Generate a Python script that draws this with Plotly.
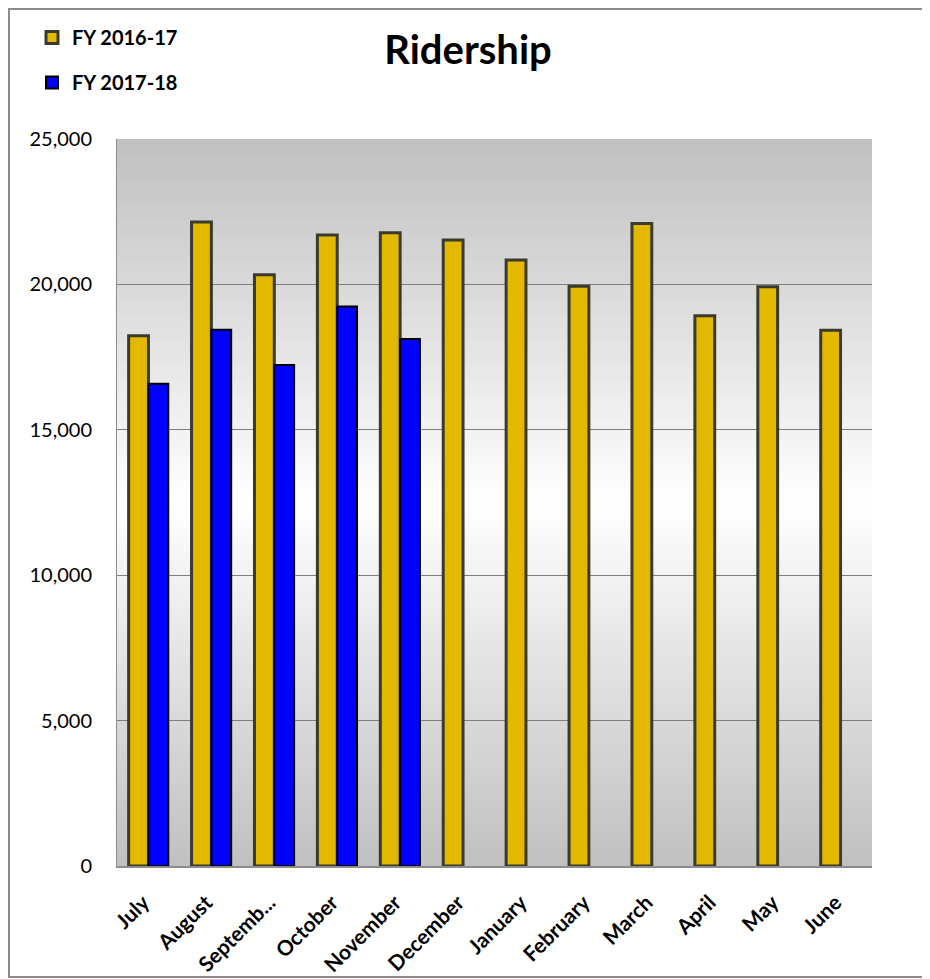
import plotly.graph_objects as go

months = ["July", "August", "Septemb...", "October", "November", "December",
          "January", "February", "March", "April", "May", "June"]
fy_2016_17 = [18230, 22150, 20330, 21700, 21780, 21530, 20840, 19940, 22090, 18920, 19920, 18420]
fy_2017_18 = [16580, 18440, 17230, 19240, 18120, None, None, None, None, None, None, None]
y_ticks = [0, 5000, 10000, 15000, 20000, 25000]

W, H = 930, 979
OFF = 8  # page body margin
L, T = 117 - OFF, 139 - OFF
pw, ph = 755, 727
R, B = W - L - pw, H - T - ph

def px_x(px):  # page px -> paper x
    return (px - OFF - L) / pw

def px_y(py):  # page px -> paper y
    return (T + ph - (py - OFF)) / ph

def cx(px):  # page px -> container x
    return (px - OFF) / W

def cy(py):  # page px -> container y
    return 1 - (py - OFF) / H

fig = go.Figure()
fig.add_trace(go.Bar(
    x=months, y=fy_2016_17, name="FY 2016-17", legendgroup="a",
    marker=dict(color="#E2B800", line=dict(color="#3A3A2E", width=3)),
))
fig.add_trace(go.Bar(
    x=months, y=fy_2017_18, name="FY 2017-18", legendgroup="b",
    marker=dict(color="#0000FF", line=dict(color="#000000", width=2)),
))

# vertical gradient background: gray -> white (middle) -> gray
shapes = []
n = 90
def mix(t):
    g0, g1 = 0xC0, 0xFF
    v = int(round(g0 + (g1 - g0) * t))
    return f"rgb({v},{v},{v})"
for i in range(n):
    f0, f1 = i / n, (i + 1) / n
    c = (f0 + f1) / 2
    t = 1 - abs(c - 0.5) / 0.5
    shapes.append(dict(type="rect", xref="x domain", yref="y domain",
                       x0=0, x1=1, y0=f0, y1=min(f1 + 0.001, 1), fillcolor=mix(t),
                       line=dict(width=0), layer="below"))
# outer chart border
shapes.append(dict(type="rect", xref="paper", yref="paper",
                   x0=px_x(OFF + 1), x1=px_x(927),
                   y0=px_y(977), y1=px_y(OFF + 1),
                   line=dict(color="#8C8C8C", width=2), fillcolor="rgba(0,0,0,0)"))

fig.update_layout(
    width=W, height=H,
    margin=dict(l=L, r=R, t=T, b=B, autoexpand=False),
    paper_bgcolor="white", plot_bgcolor="#C0C0C0",
    barmode="group", bargap=0.37, bargroupgap=0.0,
    font=dict(family="Lato, sans-serif", color="black"),
    title=dict(text="<b>Ridership</b>", x=cx(468), xanchor="center",
               y=cy(50), yanchor="middle",
               font=dict(size=40, family="Lato, sans-serif", color="black")),
    legend=dict(x=cx(32), y=cy(18), xanchor="left", yanchor="top",
                xref="container", yref="container", itemwidth=30, tracegroupgap=16,
                font=dict(size=20, family="Lato, sans-serif", color="black", weight="bold"),
                bgcolor="rgba(0,0,0,0)", traceorder="grouped"),
    shapes=shapes,
    showlegend=True,
)

fig.update_yaxes(range=[0, 25000], tickvals=y_ticks, tickformat=",d",
                 showgrid=True, gridcolor="#7F7F7F", gridwidth=1,
                 showline=True, linecolor="#8C8C8C", linewidth=1,
                 ticks="outside", ticklen=20, tickcolor="rgba(0,0,0,0)",
                 tickfont=dict(size=20, family="Lato, sans-serif", color="black"),
                 zeroline=False, automargin=False)
fig.update_xaxes(tickangle=-45, showline=True, linecolor="#8C8C8C", linewidth=2,
                 ticks="outside", ticklen=4, tickcolor="rgba(0,0,0,0)",
                 ticklabelshift=-5, ticklabelstandoff=10, automargin=False,
                 tickfont=dict(size=21, family="Lato, sans-serif", color="black", weight="bold"))

fig.write_html("out.html")
